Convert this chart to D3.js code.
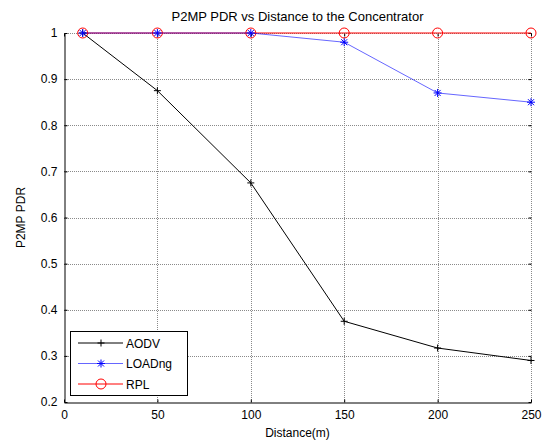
<!DOCTYPE html>
<html>
<head>
<meta charset="utf-8">
<script src="https://cdn.jsdelivr.net/npm/d3@7"></script>
<style>
  body { margin: 0; background: #fff; }
  svg { display: block; font-family: "Liberation Sans", Arial, sans-serif; }
</style>
</head>
<body>
<div id="chart"></div>
<script>
// data
const distances = [10, 50, 100, 150, 200, 250];
const aodv = [1, 0.875, 0.675, 0.375, 0.317, 0.29];
const loadng = [1, 1, 1, 0.98, 0.87, 0.85];
const rpl = [1, 1, 1, 1, 1, 1];
const xTicks = [0, 50, 100, 150, 200, 250];
const yTicks = [0.2, 0.3, 0.4, 0.5, 0.6, 0.7, 0.8, 0.9, 1];

const width = 548, height = 440;
const margin = { top: 33, right: 17, bottom: 38, left: 64 };

const svg = d3.select("#chart").append("svg")
  .attr("width", width)
  .attr("height", height);

const x = d3.scaleLinear().domain([0, 250]).range([margin.left, width - margin.right]);
const y = d3.scaleLinear().domain([0.2, 1]).range([height - margin.bottom, margin.top]);

// grid
const grid = svg.append("g")
  .attr("stroke", "#8a8a8a")
  .attr("stroke-width", 1)
  .attr("stroke-dasharray", "1,1");
grid.selectAll(".vg").data(xTicks.slice(1)).enter().append("line")
  .attr("x1", d => Math.round(x(d)) + 0.5).attr("x2", d => Math.round(x(d)) + 0.5)
  .attr("y1", y(1)).attr("y2", y(0.2));
grid.selectAll(".hg").data(yTicks.slice(1)).enter().append("line")
  .attr("y1", d => Math.round(y(d)) + 0.5).attr("y2", d => Math.round(y(d)) + 0.5)
  .attr("x1", x(0)).attr("x2", x(250));

// axes (ticks inward)
svg.append("g")
  .attr("transform", `translate(0,${Math.round(y(0.2)) + 0.5})`)
  .call(d3.axisBottom(x).tickValues(xTicks).tickSizeInner(-3).tickSizeOuter(0).tickPadding(8));
const xTop = svg.append("g")
  .attr("transform", `translate(0,${Math.round(y(1)) + 0.5})`)
  .call(d3.axisTop(x).tickValues(xTicks).tickSizeInner(-3).tickSizeOuter(0).tickFormat(""));
xTop.select(".domain").remove();

svg.append("g")
  .attr("transform", `translate(${Math.round(x(0)) + 0.5},0)`)
  .call(d3.axisLeft(y).tickValues(yTicks).tickSizeInner(-3).tickSizeOuter(0).tickPadding(7)
    .tickFormat(d => d === 1 ? "1" : d3.format(".1f")(d)));
const yRight = svg.append("g")
  .attr("transform", `translate(${Math.round(x(250)) + 0.5},0)`)
  .call(d3.axisRight(y).tickValues(yTicks).tickSizeInner(-3).tickSizeOuter(0).tickFormat(""));
yRight.select(".domain").remove();

svg.selectAll(".tick text")
  .attr("font-size", 12)
  .attr("font-family", "Liberation Sans, Arial, sans-serif")
  .attr("fill", "#000");
svg.selectAll(".tick line").attr("stroke", "#000");
svg.selectAll(".domain").attr("stroke", "#000");

// series
const series = [
  { name: "AODV", values: aodv, color: "#000000", marker: "plus", opacity: 1 },
  { name: "LOADng", values: loadng, color: "#0000ff", marker: "star", opacity: 0.6 },
  { name: "RPL", values: rpl, color: "#ff0000", marker: "circle", opacity: 1 }
];

const line = d3.line().x(d => x(d[0])).y(d => y(d[1]));

function drawMarker(g, type, cx, cy, color) {
  if (type === "plus") {
    g.append("path")
      .attr("d", `M${cx - 3.5},${cy}H${cx + 3.5}M${cx},${cy - 3.5}V${cy + 3.5}`)
      .attr("stroke", color).attr("stroke-width", 1).attr("fill", "none");
  } else if (type === "star") {
    g.append("path")
      .attr("d", `M${cx - 4},${cy}H${cx + 4}M${cx},${cy - 4}V${cy + 4}` +
        `M${cx - 3},${cy - 3}L${cx + 3},${cy + 3}M${cx - 3},${cy + 3}L${cx + 3},${cy - 3}`)
      .attr("stroke", color).attr("stroke-width", 1).attr("fill", "none");
  } else {
    g.append("circle")
      .attr("cx", cx).attr("cy", cy).attr("r", 5)
      .attr("stroke", color).attr("stroke-width", 1).attr("fill", "none");
  }
}

// RPL drawn first so the LOADng line blends over it
[series[2], series[0], series[1]].forEach(s => {
  const pts = distances.map((d, i) => [d, s.values[i]]);
  const g = svg.append("g");
  g.append("path")
    .attr("d", line(pts))
    .attr("fill", "none")
    .attr("stroke", s.color)
    .attr("stroke-opacity", s.opacity)
    .attr("stroke-width", 1);
  pts.forEach(p => drawMarker(g, s.marker, x(p[0]), y(p[1]), s.color));
});

// title and labels
svg.append("text")
  .attr("x", (x(0) + x(250)) / 2)
  .attr("y", 21)
  .attr("text-anchor", "middle")
  .attr("font-size", 13)
  .text("P2MP PDR vs Distance to the Concentrator");

svg.append("text")
  .attr("x", (x(0) + x(250)) / 2)
  .attr("y", 437)
  .attr("text-anchor", "middle")
  .attr("font-size", 12)
  .text("Distance(m)");

svg.append("text")
  .attr("transform", `translate(25,${(y(0.2) + y(1)) / 2}) rotate(-90)`)
  .attr("text-anchor", "middle")
  .attr("font-size", 12)
  .text("P2MP PDR");

// legend
const lg = svg.append("g").attr("transform", "translate(70,331)");
lg.append("rect")
  .attr("x", 0.5).attr("y", 0.5)
  .attr("width", 117).attr("height", 64)
  .attr("fill", "#fff").attr("stroke", "#000").attr("stroke-width", 1);
series.forEach((s, i) => {
  const cy = 12 + i * 20.5;
  lg.append("line")
    .attr("x1", 8).attr("x2", 53).attr("y1", cy).attr("y2", cy)
    .attr("stroke", s.color).attr("stroke-opacity", s.opacity).attr("stroke-width", 1);
  drawMarker(lg, s.marker, 31, cy, s.color);
  lg.append("text")
    .attr("x", 56).attr("y", cy + 4.5)
    .attr("font-size", 12)
    .text(s.name);
});
</script>
</body>
</html>
